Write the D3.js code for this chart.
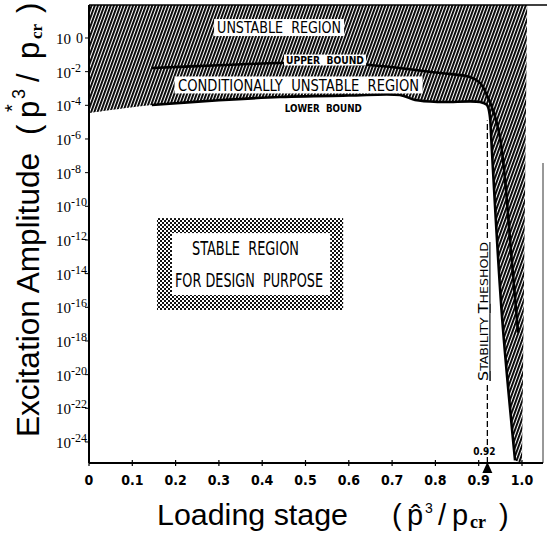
<!DOCTYPE html>
<html>
<head>
<meta charset="utf-8">
<script src="https://cdn.jsdelivr.net/npm/d3@7"></script>
<style>
  body { margin: 0; background: #fff; }
  svg { display: block; }
</style>
</head>
<body>
<div id="chart"></div>
<script>
// x: loading stage, y: log10 of excitation amplitude
var xTicks = [0, 0.1, 0.2, 0.3, 0.4, 0.5, 0.6, 0.7, 0.8, 0.9, 1.0];
var xTickLabels = ["0", "0.1", "0.2", "0.3", "0.4", "0.5", "0.6", "0.7", "0.8", "0.9", "1.0"];
var yTickExps = [0, -2, -4, -6, -8, -10, -12, -14, -16, -18, -20, -22, -24];

var upperX   = [0.145, 0.30, 0.441, 0.55, 0.649, 0.811, 0.880, 0.903, 0.921, 0.938, 0.949, 0.961, 0.975, 0.991];
var upperExp = [-1.78, -1.62, -1.49, -1.50, -1.60, -2.08, -2.32, -2.67, -3.51, -4.69, -5.88, -8.44, -12.8, -17.5];

var lowerX   = [0, 0.145, 0.30, 0.441, 0.60, 0.718, 0.753, 0.811, 0.903, 0.919, 0.926, 0.928, 0.933, 0.954, 0.984];
var lowerExp = [-4.46, -3.98, -3.70, -3.51, -3.42, -3.39, -3.68, -3.80, -3.80, -3.98, -4.69, -5.47, -7.84, -16.6, -25.1];

// right edge of the hatched (unstable) area
var edgeX   = [1.012, 1.0];
var edgeExp = [1.96, -25.25];

var threshold = 0.92;

var width = 547, height = 538;
var svg = d3.select("#chart").append("svg")
  .attr("width", width)
  .attr("height", height);

var x = d3.scaleLinear().domain([0, 1]).range([89, 522]);
var y = d3.scaleLog().domain([Math.pow(10, -25.25), Math.pow(10, 1.96)]).range([463, 5]);
function Y(e) { return y(Math.pow(10, e)); }

var defs = svg.append("defs");
var hatch = defs.append("pattern")
  .attr("id", "hatch")
  .attr("patternUnits", "userSpaceOnUse")
  .attr("width", 3).attr("height", 10)
  .attr("patternTransform", "rotate(20)");
hatch.append("rect").attr("width", 3).attr("height", 10).attr("fill", "#fff");
hatch.append("rect").attr("width", 1.9).attr("height", 10).attr("fill", "#000");

var checker = defs.append("pattern")
  .attr("id", "checker")
  .attr("patternUnits", "userSpaceOnUse")
  .attr("width", 4).attr("height", 4);
checker.append("rect").attr("width", 4).attr("height", 4).attr("fill", "#fff");
checker.append("rect").attr("width", 2).attr("height", 2).attr("fill", "#111");
checker.append("rect").attr("x", 2).attr("y", 2).attr("width", 2).attr("height", 2).attr("fill", "#111");

var curveGen = d3.line()
  .x(function (d) { return x(d[0]); })
  .y(function (d) { return Y(d[1]); })
  .curve(d3.curveCatmullRom.alpha(0.5));

// hatched region: everything above the lower bound
var lowerPts = lowerX.map(function (v, k) { return [v, lowerExp[k]]; });
var upperPts = upperX.map(function (v, k) { return [v, upperExp[k]]; });
var lowerRev = lowerPts.slice().reverse();
var regionPath = "M" + x(0) + "," + Y(1.96) +
  "L" + x(edgeX[0]) + "," + Y(edgeExp[0]) +
  "L" + x(edgeX[1]) + "," + Y(edgeExp[1]) +
  "L" + curveGen(lowerRev).slice(1) + "Z";

svg.append("path")
  .attr("d", regionPath)
  .attr("fill", "url(#hatch)");

// bound lines
svg.append("path")
  .attr("d", curveGen(upperPts))
  .attr("fill", "none")
  .attr("stroke", "#000")
  .attr("stroke-width", 2.6);

svg.append("path")
  .attr("d", curveGen(lowerPts.slice(1)))
  .attr("fill", "none")
  .attr("stroke", "#000")
  .attr("stroke-width", 2.6);

// frame
svg.append("line").attr("x1", x(0)).attr("x2", 547).attr("y1", 5).attr("y2", 5)
  .attr("stroke", "#000").attr("stroke-width", 1.5);
svg.append("line").attr("x1", 543).attr("x2", 543).attr("y1", 163).attr("y2", 463)
  .attr("stroke", "#333").attr("stroke-width", 1);

// axes
var xAxis = svg.append("g");
xAxis.append("line").attr("x1", x(0)).attr("x2", 543).attr("y1", 463).attr("y2", 463)
  .attr("stroke", "#000").attr("stroke-width", 2);
xAxis.selectAll(".xt").data(xTicks).enter().append("line")
  .attr("x1", function (d) { return x(d); }).attr("x2", function (d) { return x(d); })
  .attr("y1", 460).attr("y2", 466)
  .attr("stroke", "#000").attr("stroke-width", 1.2);
xAxis.selectAll(".xl").data(xTicks).enter().append("text")
  .attr("x", function (d) { return x(d); })
  .attr("y", 485)
  .attr("text-anchor", "middle")
  .attr("font-family", "'DejaVu Sans Condensed', 'DejaVu Sans', sans-serif")
  .attr("font-weight", "bold")
  .attr("font-size", 14)
  .text(function (d, k) { return xTickLabels[k]; });

var yAxis = svg.append("g");
yAxis.append("line").attr("x1", x(0)).attr("x2", x(0)).attr("y1", 5).attr("y2", 463)
  .attr("stroke", "#000").attr("stroke-width", 2);
yAxis.selectAll(".yt").data(yTickExps).enter().append("line")
  .attr("x1", x(0) - 4).attr("x2", x(0))
  .attr("y1", function (d) { return Y(d); }).attr("y2", function (d) { return Y(d); })
  .attr("stroke", "#000").attr("stroke-width", 1);
var yl = yAxis.selectAll(".yl").data(yTickExps).enter().append("text")
  .attr("x", 56)
  .attr("y", function (d) { return Y(d) + 6; })
  .attr("font-family", "'Liberation Serif', serif")
  .attr("fill", "#000")
  .attr("font-size", 15);
yl.append("tspan").text("10");
yl.append("tspan")
  .attr("dx", function (d) { return d === 0 ? 5 : 0; })
  .attr("dy", function (d) { return d === 0 ? -1 : -6; })
  .attr("font-size", function (d) { return d === 0 ? 14 : 12; })
  .text(function (d) { return d === 0 ? "0" : "-" + Math.abs(d); });

// stability threshold
var tx = x(threshold);
svg.append("line")
  .attr("x1", tx).attr("x2", tx)
  .attr("y1", 463).attr("y2", Y(-4.9))
  .attr("stroke", "#000").attr("stroke-width", 1.3)
  .attr("stroke-dasharray", "6,3");
svg.append("rect")
  .attr("x", tx - 13).attr("y", 240).attr("width", 16).attr("height", 142)
  .attr("fill", "#fff");
var st = svg.append("text")
  .attr("transform", "translate(" + (tx + 1) + ",381) rotate(-90)")
  .attr("font-family", "'DejaVu Sans Condensed', 'DejaVu Sans', sans-serif")
  .attr("font-size", 11)
  .attr("textLength", 139)
  .attr("lengthAdjust", "spacingAndGlyphs")
  .attr("text-decoration", "underline");
st.append("tspan").attr("font-size", 14).text("S");
st.append("tspan").text("TABILITY ");
st.append("tspan").attr("font-size", 14).text("T");
st.append("tspan").text("HESHOLD");
svg.append("path")
  .attr("d", "M" + tx + ",462 L" + (tx - 5) + ",473 L" + (tx + 5) + ",473 Z")
  .attr("fill", "#000");
svg.append("text")
  .attr("x", tx - 3).attr("y", 455)
  .attr("text-anchor", "middle")
  .attr("font-family", "'DejaVu Sans Condensed', 'DejaVu Sans', sans-serif")
  .attr("font-weight", "bold")
  .attr("font-size", 10)
  .text(threshold.toFixed(2));

// region labels (in data coordinates)
var labels = [
  { text: "UNSTABLE  REGION", x: 0.439, e: 0.62, w: 130, h: 17, len: 124, fs: 15, box: true, bold: false },
  { text: "UPPER  BOUND", x: 0.545, e: -1.31, w: 82, h: 11, len: 78, fs: 10, box: true, bold: true },
  { text: "CONDITIONALLY  UNSTABLE  REGION", x: 0.484, e: -2.79, w: 248, h: 17, len: 241, fs: 16, box: true, bold: false },
  { text: "LOWER  BOUND", x: 0.541, e: -4.19, w: 80, h: 11, len: 77, fs: 10, box: false, bold: true }
];
labels.forEach(function (l) {
  var cx = x(l.x), cy = Y(l.e);
  if (l.box) {
    svg.append("rect")
      .attr("x", cx - l.w / 2).attr("y", cy - l.h / 2)
      .attr("width", l.w).attr("height", l.h)
      .attr("fill", "#fff");
  }
  svg.append("text")
    .attr("x", cx - l.len / 2)
    .attr("y", cy + l.fs * 0.36)
    .attr("font-family", "'DejaVu Sans Condensed', 'DejaVu Sans', sans-serif")
    .attr("font-weight", l.bold ? "bold" : "normal")
    .attr("font-size", l.fs)
    .attr("textLength", l.len)
    .attr("lengthAdjust", "spacingAndGlyphs")
    .style("white-space", "pre")
    .text(l.text);
});

// stable region box
var sx0 = x(0.157), sx1 = x(0.587), sy0 = Y(-10.70), sy1 = Y(-16.16);
svg.append("rect")
  .attr("x", sx0).attr("y", sy0).attr("width", sx1 - sx0).attr("height", sy1 - sy0)
  .attr("fill", "url(#checker)");
svg.append("rect")
  .attr("x", sx0 + 15).attr("y", sy0 + 15).attr("width", sx1 - sx0 - 28).attr("height", sy1 - sy0 - 30)
  .attr("fill", "#fff");
svg.append("text")
  .attr("x", 192).attr("y", 255)
  .attr("font-family", "'DejaVu Sans Condensed', 'DejaVu Sans', sans-serif")
  .attr("font-size", 19)
  .attr("textLength", 107)
  .attr("lengthAdjust", "spacingAndGlyphs")
  .style("white-space", "pre")
  .text("STABLE  REGION");
svg.append("text")
  .attr("x", 175).attr("y", 287)
  .attr("font-family", "'DejaVu Sans Condensed', 'DejaVu Sans', sans-serif")
  .attr("font-size", 19)
  .attr("textLength", 148)
  .attr("lengthAdjust", "spacingAndGlyphs")
  .style("white-space", "pre")
  .text("FOR DESIGN  PURPOSE");

// axis titles
var sans = "'Liberation Sans', Arial, sans-serif";
var serif = "'Liberation Serif', 'Times New Roman', serif";

var xt = svg.append("g").attr("font-family", sans);
xt.append("text").attr("x", 157).attr("y", 525).attr("font-size", 29)
  .attr("textLength", 191).attr("lengthAdjust", "spacingAndGlyphs").text("Loading stage");
xt.append("text").attr("x", 392).attr("y", 525).attr("font-size", 29).text("(");
xt.append("text").attr("x", 407).attr("y", 525).attr("font-size", 29).text("p\u0302");
xt.append("text").attr("x", 425).attr("y", 513).attr("font-size", 14).text("3");
xt.append("text").attr("x", 438).attr("y", 525).attr("font-size", 29).text("/");
xt.append("text").attr("x", 452).attr("y", 525).attr("font-size", 29).text("p");
xt.append("text").attr("x", 470).attr("y", 528).attr("font-size", 18)
  .attr("font-family", serif).attr("font-weight", "bold").text("cr");
xt.append("text").attr("x", 499).attr("y", 525).attr("font-size", 29).text(")");

var yt = svg.append("g").attr("font-family", sans)
  .attr("transform", "translate(39,437) rotate(-90)");
yt.append("text").attr("x", 0).attr("y", 0).attr("font-size", 31)
  .attr("textLength", 284).attr("lengthAdjust", "spacingAndGlyphs").text("Excitation Amplitude");
yt.append("text").attr("x", 302).attr("y", 0).attr("font-size", 31).text("(");
yt.append("text").attr("x", 319).attr("y", 0).attr("font-size", 31).text("p");
yt.append("text").attr("x", 325).attr("y", -20).attr("font-size", 20).text("*");
yt.append("text").attr("x", 338).attr("y", -14).attr("font-size", 18).text("3");
yt.append("text").attr("x", 355).attr("y", 0).attr("font-size", 31).text("/");
yt.append("text").attr("x", 378).attr("y", 0).attr("font-size", 31).text("p");
yt.append("text").attr("x", 398).attr("y", 3).attr("font-size", 17)
  .attr("font-family", serif).attr("font-weight", "bold").text("cr");
yt.append("text").attr("x", 424).attr("y", 0).attr("font-size", 31).text(")");
</script>
</body>
</html>
